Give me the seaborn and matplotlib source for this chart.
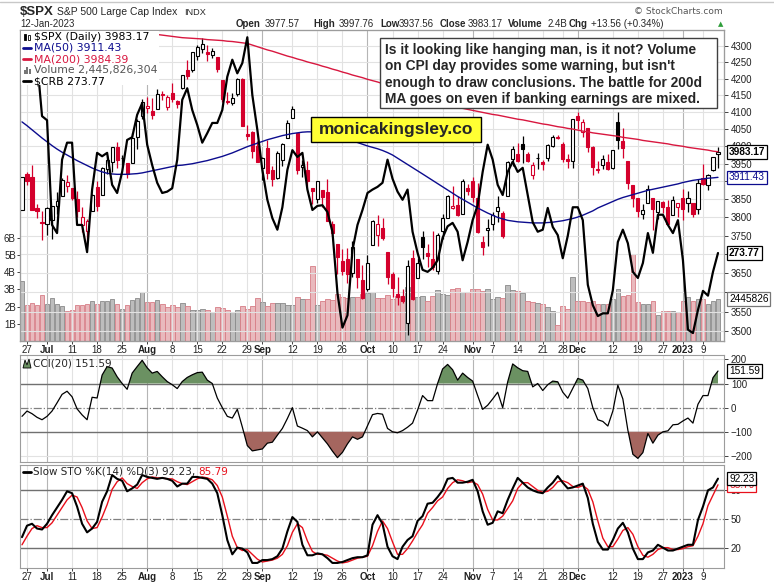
import matplotlib
matplotlib.use("Agg")
import matplotlib.pyplot as plt
from matplotlib import ticker, transforms
from matplotlib.lines import Line2D
from matplotlib.patches import Rectangle, Polygon
import seaborn as sns
import pandas as pd
import numpy as np

# ---- data -----------------------------------------------------------------
holidays = ['2022-07-04', '2022-09-05', '2022-11-24', '2022-12-26', '2023-01-02']
days = pd.bdate_range('2022-06-24', '2023-01-12')
days = days[~days.isin(pd.to_datetime(holidays))]

prev_close = 3795.73

opens = [3821.75, 3920.76, 3913.00, 3825.09, 3785.99, 3781.00, 3792.61, 3831.98, 3858.85, 3888.26,
         3880.94, 3851.95, 3779.67, 3763.99, 3818.00, 3883.79, 3860.73, 3935.32, 3955.47, 3998.43,
         3965.72, 3953.22, 3951.43, 4026.13, 4087.33, 4112.38, 4104.21, 4107.96, 4154.85, 4115.87,
         4155.93, 4133.11, 4170.78, 4227.40, 4225.02, 4269.37, 4290.46, 4280.40, 4273.13, 4266.31,
         4195.08, 4133.09, 4126.55, 4153.26, 4198.74, 4034.58, 4041.25, 4000.67, 3936.73, 3994.66,
         3930.89, 3909.43, 3959.94, 4022.94, 4083.67, 4037.12, 3940.73, 3932.41, 3880.95, 3849.91,
         3875.23, 3871.40, 3782.36, 3727.14, 3682.72, 3686.44, 3651.94, 3687.01, 3633.48, 3609.78,
         3726.46, 3753.25, 3771.97, 3706.74, 3647.51, 3595.86, 3590.83, 3520.37, 3690.41, 3638.65,
         3746.26, 3703.11, 3689.05, 3657.10, 3762.01, 3799.44, 3825.97, 3834.69, 3808.26, 3881.85,
         3901.79, 3852.90, 3733.25, 3766.98, 3780.71, 3817.02, 3810.94, 3859.89, 3963.72, 3977.97,
         4006.41, 3976.82, 3919.26, 3966.39, 3956.23, 3965.51, 4000.30, 4023.34, 4005.36, 3964.19,
         3957.18, 4087.14, 4040.17, 4052.02, 3996.63, 3933.28, 3947.79, 3954.17, 3939.29, 4069.38,
         4015.54, 3958.37, 3890.91, 3853.79, 3810.47, 3839.49, 3853.26, 3815.11, 3843.34, 3829.56,
         3805.45, 3829.06, 3853.29, 3840.36, 3839.74, 3823.37, 3910.82, 3888.57, 3932.35, 3977.57]

highs = [3913.65, 3927.72, 3945.86, 3836.50, 3818.99, 3829.82, 3832.19, 3870.91, 3910.63, 3918.50,
         3880.94, 3873.41, 3829.44, 3796.41, 3863.62, 3902.44, 3939.81, 3974.13, 3999.29, 4012.44,
         3975.30, 3953.22, 4039.56, 4078.95, 4140.15, 4144.95, 4140.47, 4167.66, 4161.29, 4151.58,
         4186.62, 4137.30, 4211.03, 4257.91, 4280.47, 4301.79, 4325.28, 4302.18, 4292.53, 4266.31,
         4195.08, 4159.77, 4156.56, 4200.54, 4203.04, 4062.99, 4044.98, 4015.37, 3970.23, 4018.43,
         3942.55, 3987.89, 4010.50, 4076.81, 4119.28, 4037.12, 3961.94, 3959.14, 3880.95, 3900.45,
         3876.01, 3907.07, 3790.17, 3727.14, 3715.67, 3717.53, 3736.74, 3687.01, 3671.44, 3698.35,
         3791.92, 3806.91, 3797.93, 3706.74, 3652.17, 3640.66, 3608.34, 3685.41, 3712.00, 3689.73,
         3762.79, 3728.58, 3762.45, 3757.89, 3810.74, 3862.85, 3886.15, 3859.95, 3905.42, 3893.73,
         3911.79, 3894.44, 3750.59, 3796.34, 3813.95, 3859.40, 3818.20, 3958.33, 4001.48, 4008.97,
         4028.84, 3983.09, 3954.33, 3979.89, 3962.00, 4005.88, 4033.78, 4034.02, 4012.27, 3976.77,
         4080.11, 4100.51, 4080.48, 4052.45, 4001.51, 3957.57, 3974.19, 3977.02, 3990.71, 4100.96,
         4053.76, 3958.37, 3890.91, 3854.86, 3838.24, 3889.28, 3853.26, 3845.80, 3846.65, 3848.32,
         3858.19, 3839.85, 3878.46, 3873.16, 3839.74, 3906.19, 3950.57, 3919.83, 3970.07, 3997.76]

lows = [3821.75, 3889.66, 3820.14, 3799.02, 3738.67, 3752.10, 3742.06, 3809.37, 3858.85, 3869.34,
        3847.22, 3802.36, 3759.07, 3721.56, 3817.18, 3818.63, 3860.73, 3922.03, 3927.64, 3938.85,
        3943.46, 3910.74, 3951.43, 3992.97, 4079.22, 4096.02, 4079.81, 4107.96, 4135.42, 4107.31,
        4128.97, 4112.09, 4167.62, 4200.08, 4219.78, 4256.90, 4277.77, 4253.08, 4261.98, 4218.70,
        4129.86, 4124.03, 4119.97, 4147.59, 4057.66, 4017.42, 3965.21, 3954.53, 3903.65, 3906.21,
        3886.75, 3906.03, 3944.81, 4022.94, 4083.67, 3921.82, 3912.15, 3888.28, 3837.08, 3838.50,
        3827.54, 3789.49, 3749.45, 3647.47, 3644.76, 3623.29, 3640.61, 3610.40, 3584.13, 3604.93,
        3726.46, 3722.66, 3739.22, 3620.73, 3588.10, 3568.45, 3573.86, 3491.58, 3579.68, 3638.65,
        3686.53, 3666.51, 3658.82, 3647.42, 3741.65, 3799.44, 3824.07, 3803.79, 3808.26, 3863.18,
        3843.80, 3758.68, 3698.15, 3721.56, 3764.70, 3786.28, 3744.22, 3859.89, 3944.82, 3956.40,
        3953.17, 3954.34, 3906.54, 3935.98, 3933.34, 3956.88, 3998.66, 4020.76, 3955.77, 3937.65,
        3938.58, 4050.87, 4026.63, 3984.49, 3918.39, 3922.68, 3935.83, 3933.04, 3935.30, 3993.03,
        3965.65, 3879.45, 3827.91, 3800.04, 3795.62, 3839.49, 3764.49, 3797.01, 3813.22, 3780.78,
        3805.45, 3800.34, 3794.33, 3815.77, 3802.42, 3809.56, 3890.42, 3877.29, 3928.54, 3937.56]

closes = [3911.74, 3900.11, 3821.55, 3818.83, 3785.38, 3825.33, 3831.39, 3845.08, 3902.62, 3899.38,
          3854.43, 3818.80, 3801.78, 3790.38, 3863.16, 3830.85, 3936.69, 3959.90, 3998.95, 3961.63,
          3966.84, 3921.05, 4023.61, 4072.43, 4130.29, 4118.63, 4091.19, 4155.17, 4151.94, 4145.19,
          4140.06, 4122.47, 4210.24, 4207.27, 4280.15, 4297.14, 4305.20, 4274.04, 4283.74, 4228.48,
          4137.99, 4128.73, 4140.77, 4199.12, 4057.66, 4030.61, 3986.16, 3955.00, 3966.85, 3924.26,
          3908.19, 3979.87, 4006.18, 4067.36, 4110.41, 3932.69, 3946.01, 3901.35, 3873.33, 3899.89,
          3855.93, 3789.93, 3757.99, 3693.23, 3655.04, 3647.29, 3719.04, 3640.47, 3585.62, 3678.43,
          3790.93, 3783.28, 3744.52, 3639.66, 3612.39, 3588.84, 3577.03, 3669.91, 3583.07, 3677.95,
          3719.98, 3695.16, 3665.78, 3752.75, 3797.34, 3859.11, 3830.60, 3807.30, 3901.06, 3871.98,
          3856.10, 3759.69, 3719.89, 3770.55, 3806.80, 3828.11, 3748.57, 3956.37, 3992.93, 3957.25,
          3991.73, 3958.79, 3946.56, 3965.34, 3949.94, 4003.58, 4027.26, 4026.12, 3963.94, 3957.63,
          4080.11, 4076.57, 4071.70, 3998.84, 3941.26, 3933.92, 3963.51, 3934.38, 3990.56, 4019.65,
          3995.32, 3895.75, 3852.36, 3817.66, 3821.62, 3878.44, 3822.39, 3844.82, 3829.25, 3783.22,
          3849.28, 3839.50, 3824.14, 3852.97, 3808.10, 3895.08, 3892.09, 3919.25, 3969.61, 3983.17]

# volume in billions of shares
volume_b = [3.46, 2.10, 2.22, 2.12, 2.70, 2.16, 2.51, 2.16, 2.05, 1.75,
            1.82, 2.12, 2.07, 2.18, 2.34, 2.18, 2.34, 2.30, 2.45, 2.18,
            1.87, 2.12, 2.39, 2.51, 2.86, 2.28, 2.24, 2.39, 2.16, 2.00,
            2.12, 2.00, 2.22, 2.05, 1.82, 1.78, 1.87, 1.82, 1.70, 1.97,
            1.93, 1.82, 1.70, 1.82, 2.05, 1.87, 2.05, 2.51, 2.28, 2.05,
            2.22, 2.21, 2.22, 2.07, 2.12, 2.57, 2.46, 2.46, 4.38, 2.12,
            2.30, 2.46, 2.41, 2.76, 2.57, 2.52, 2.57, 2.57, 2.75, 2.80,
            2.86, 2.48, 2.52, 2.70, 2.44, 2.64, 2.54, 3.16, 2.54, 2.54,
            2.64, 2.35, 2.64, 2.97, 2.74, 2.68, 3.00, 3.07, 2.87, 2.87,
            3.05, 3.00, 2.92, 3.00, 2.44, 2.58, 2.52, 3.28, 2.97, 2.90,
            2.78, 2.35, 2.26, 2.20, 2.16, 2.00, 1.73, 0.95, 2.06, 1.87,
            3.71, 2.30, 2.35, 2.26, 2.35, 2.16, 2.14, 2.14, 2.45, 3.03,
            2.59, 2.65, 5.03, 2.26, 2.16, 2.16, 2.35, 1.54, 1.73, 1.73,
            1.73, 1.67, 2.35, 2.55, 2.35, 2.45, 2.45, 2.14, 2.35, 2.446]

ma50 = [4071, 4060, 4048, 4036, 4024, 4013, 4002, 3992,
        3983, 3975, 3967, 3959, 3952, 3945, 3938, 3932,
        3927, 3923, 3921, 3920, 3920, 3920, 3921, 3922,
        3924, 3927, 3930, 3933, 3936, 3939, 3942, 3945,
        3946, 3948, 3950, 3953, 3956, 3959, 3963,
        3967, 3971, 3976, 3981, 3987, 3993, 3999,
        4004, 4009, 4014, 4019, 4023, 4027, 4031,
        4034, 4037, 4039, 4041, 4042, 4042, 4041,
        4039, 4036, 4033, 4029, 4025, 4021, 4016,
        4011, 4006, 4001, 3997, 3993, 3988, 3982,
        3975, 3966, 3957, 3948, 3939, 3930, 3921, 3912, 3903, 3894, 3885, 3876, 3867, 3858,
        3850, 3842, 3834, 3826, 3819, 3812, 3806, 3800,
        3796, 3792, 3790, 3788, 3787, 3786,
        3785, 3785, 3785, 3786, 3787, 3789, 3791,
        3794, 3797, 3801, 3806, 3812, 3818, 3826,
        3832, 3838, 3844, 3850, 3855, 3859, 3863,
        3867, 3871, 3875, 3878, 3881, 3884, 3887,
        3890, 3893, 3897, 3900, 3903, 3905, 3907,
        3909, 3910, 3911.43]

ma200 = [4420, 4416, 4412, 4408, 4404, 4400, 4396, 4392, 4388, 4384, 4380,
         4377, 4374, 4371, 4368, 4365, 4362, 4359, 4356, 4353, 4350, 4348,
         4346, 4344, 4342, 4340, 4338, 4336, 4334, 4332, 4330, 4328, 4326,
         4325, 4324, 4323, 4322, 4320, 4319, 4318, 4317, 4315, 4314, 4312, 4310, 4308,
         4303, 4298, 4293, 4288, 4284, 4279, 4274, 4269, 4265, 4260, 4256, 4251, 4247,
         4243, 4238, 4234, 4229, 4225, 4220, 4216, 4211, 4207, 4203, 4198, 4194, 4190,
         4185, 4181, 4176, 4171, 4167, 4162, 4157, 4153, 4148, 4143, 4139, 4134, 4129, 4125, 4120, 4115, 4111,
         4108, 4105, 4102, 4099, 4096, 4093, 4091,
         4088, 4085, 4082, 4079, 4077, 4074, 4071, 4068, 4065, 4063, 4060, 4057,
         4055, 4052, 4050, 4047, 4044, 4042, 4039, 4037,
         4035, 4033, 4031, 4029, 4026, 4024, 4022, 4020, 4017, 4015, 4013, 4011, 4009, 4007,
         4004, 4002, 4000, 3997, 3995, 3993, 3991, 3989, 3986, 3984.39]

crb = [302.2, 302.9, 304.4, 302.2, 293.9, 293.3, 277.9, 276.7, 287.5, 290.0,
       290.0, 277.9, 277.9, 273.9, 283.1, 288.5, 288.0, 288.5, 283.8, 282.6,
       285.7, 290.4, 290.8, 294.1, 295.8, 289.7, 286.7, 284.1, 282.6, 282.8,
       283.3, 287.5, 296.3, 298.0, 294.8, 292.6, 290.0, 291.4, 292.9, 292.9,
       294.8, 299.7, 302.2, 300.2, 301.7, 305.5, 297.0, 291.9, 286.0, 281.6,
       278.9, 277.2, 280.5, 286.0, 288.9, 287.9, 288.5, 283.1, 280.1, 280.7,
       280.8, 279.8, 276.9, 267.9, 262.8, 264.6, 274.2, 277.9, 280.1, 282.6,
       283.1, 283.5, 284.1, 287.5, 284.7, 282.8, 281.6, 283.1, 276.9, 273.8,
       271.3, 271.0, 271.6, 272.7, 276.0, 277.7, 278.2, 276.9, 272.7, 275.4,
       278.6, 280.8, 285.7, 289.7, 287.5, 283.8, 282.3, 285.7, 287.2, 285.7,
       286.3, 282.3, 278.3, 276.9, 277.2, 280.4, 277.6, 276.4, 273.0, 276.3,
       280.5, 280.5, 278.6, 269.1, 266.1, 264.5, 264.9, 264.9, 268.3, 275.4,
       277.2, 275.2, 271.0, 270.1, 272.3, 276.7, 273.8, 279.4, 279.4, 277.9,
       276.7, 278.6, 272.7, 262.5, 262.0, 265.4, 268.2, 267.5, 271.0, 273.77]

cci = [-36, -14, -25, -40, -50, -36, -14, 20, 55, 68,
       45, -5, -30, -50, 43, 40, 135, 170, 164, 128,
       100, 76, 143, 170, 196, 165, 143, 150, 128, 108,
       95, 79, 108, 125, 136, 145, 147, 114, 100, 40,
       0, -36, -43, -7, -80, -157, -179, -175, -171, -147,
       -143, -114, -86, -45, 0, -76, -85, -95, -121, -100,
       -125, -150, -180, -207, -185, -150, -121, -131, -121, -75,
       -29, -24, -27, -86, -100, -104, -95, -81, -64, -10,
       50, 29, 29, 100, 160, 179, 157, 114, 143, 125,
       110, 50, -7, 10, 36, 64, 0, 107, 181, 165,
       153, 150, 86, 100, 71, 95, 110, 107, 64, 39,
       80, 121, 114, 79, 0, -50, -57, -76, -14, 93,
       36, -93, -193, -210, -186, -107, -147, -114, -100, -96,
       -71, -69, -55, -43, -64, 14, 50, 50, 124, 151.59]

sto_k = [31, 43, 45, 40, 39, 45, 54, 62, 70, 79,
         77, 63, 45, 36, 40, 47, 68, 79, 96, 92,
         90, 79, 82, 86, 96, 94, 93, 92, 93, 92,
         90, 84, 87, 87, 94, 94, 93, 92, 87, 77,
         54, 28, 13, 20, 19, 15, 4, 4, 7, 7,
         8, 11, 19, 37, 52, 47, 23, 12, 12, 14,
         13, 9, 4, 4, 5, 7, 9, 10, 10, 12,
         44, 54, 45, 21, 11, 8, 21, 28, 32, 48,
         53, 66, 67, 73, 80, 92, 93, 88, 88, 89,
         91, 79, 58, 44, 46, 58, 56, 70, 82, 93,
         88, 83, 80, 78, 77, 83, 88, 95, 88, 82,
         83, 85, 87, 72, 45, 26, 18, 18, 28, 40,
         46, 36, 19, 8, 8, 15, 17, 23, 20, 17,
         17, 19, 21, 23, 23, 49, 63, 80, 83, 92.23]

sto_d = [23, 32, 40, 43, 41, 41, 46, 54, 62, 70,
         75, 73, 62, 48, 40, 41, 52, 65, 81, 89,
         93, 87, 84, 82, 88, 92, 94, 93, 93, 92,
         92, 89, 87, 86, 89, 92, 94, 93, 91, 85,
         73, 53, 32, 20, 17, 18, 13, 8, 5, 6,
         7, 9, 13, 22, 36, 45, 41, 27, 16, 13,
         13, 12, 9, 6, 4, 5, 7, 9, 10, 11,
         22, 37, 48, 40, 26, 13, 13, 19, 27, 36,
         44, 56, 62, 69, 73, 82, 88, 91, 90, 88,
         89, 86, 76, 60, 49, 49, 53, 61, 69, 82,
         88, 88, 84, 80, 78, 79, 83, 89, 90, 88,
         84, 83, 85, 81, 68, 48, 30, 21, 21, 29,
         38, 41, 34, 21, 12, 10, 13, 18, 20, 20,
         18, 18, 19, 21, 22, 32, 45, 64, 75, 85.79]

tick_dates = ['2022-06-27', '2022-07-01', '2022-07-11', '2022-07-18', '2022-07-25', '2022-08-01',
              '2022-08-08', '2022-08-15', '2022-08-22', '2022-08-29', '2022-09-01', '2022-09-12',
              '2022-09-19', '2022-09-26', '2022-10-03', '2022-10-10', '2022-10-17', '2022-10-24',
              '2022-11-01', '2022-11-07', '2022-11-14', '2022-11-21', '2022-11-28', '2022-12-01',
              '2022-12-12', '2022-12-19', '2022-12-27', '2023-01-03', '2023-01-09']
tick_labels = ['27', 'Jul', '11', '18', '25', 'Aug', '8', '15', '22', '29', 'Sep', '12', '19', '26',
               'Oct', '10', '17', '24', 'Nov', '7', '14', '21', '28', 'Dec', '12', '19', '27', '2023', '9']
month_labels = ['Jul', 'Aug', 'Sep', 'Oct', 'Nov', 'Dec', '2023']

price_ticks = list(range(3500, 4301, 50))
hidden_price_labels = [3600, 3700]   # sit under the value tags

note_lines = ["Is it looking like hanging man, is it not? Volume",
              "on CPI day provides some warning, but isn't",
              "enough to draw conclusions. The battle for 200d",
              "MA goes on even if banking earnings are mixed."]

# ---- setup ----------------------------------------------------------------
W, H = 774, 587
RED = '#d4002c'
NAVY = '#0c0c8e'
CRIMSON = '#d8173f'
GREEN = '#6b9162'
BROWN = '#a5665f'
FRAME = '#9c9c9c'
LIGHT = '#e2e2e2'
MONTH = '#b5b5b5'


def box(l, t, r, b):
    return [l / W, 1 - b / H, (r - l) / W, (b - t) / H]


def fx(x):
    return x / W


def fy(y):
    return 1 - y / H


sns.set_theme(style="white")
plt.rcParams['font.family'] = ['DejaVu Sans']

df = pd.DataFrame({'date': days, 'open': opens, 'high': highs, 'low': lows, 'close': closes,
                   'volume': volume_b, 'ma50': ma50, 'ma200': ma200, 'crb': crb,
                   'cci': cci, 'k': sto_k, 'd': sto_d})
df['n'] = np.arange(len(df))
up_day = df['close'] >= df['close'].shift(1).fillna(prev_close)
hollow = df['close'] >= df['open']
edge = np.where(up_day, 'black', RED)
face = np.where(hollow, 'white', edge)

tick_pos = [days.get_loc(pd.Timestamp(d)) for d in tick_dates]
x_lim = (-0.4, 140.2)

fig = plt.figure(figsize=(W / 100, H / 100), dpi=100)
fig.patch.set_facecolor('white')

ax_vol = fig.add_axes(box(20, 30, 724, 341))
ax = ax_vol.twinx()
ax_crb = ax_vol.twinx()
ax_cci = fig.add_axes(box(20, 355, 724, 462))
ax_sto = fig.add_axes(box(20, 465, 724, 568))

for a in (ax_vol, ax, ax_crb, ax_cci, ax_sto):
    for s in a.spines.values():
        s.set_color(FRAME)
        s.set_linewidth(0.8)
    a.set_xlim(*x_lim)

# ---- grid -----------------------------------------------------------------
for p, lab in zip(tick_pos, tick_labels):
    c = MONTH if lab in month_labels else LIGHT
    for a in (ax, ax_cci, ax_sto):
        a.axvline(p, color=c, lw=0.8, zorder=0)
for v in price_ticks:
    ax.axhline(v, color=LIGHT, lw=0.8, zorder=0)

# ---- volume ---------------------------------------------------------------
vol_face = np.where(up_day, '#bdbdbd', '#e9b9bd')
vol_edge = np.where(up_day, '#8a8a8a', '#d77d86')
ax_vol.bar(df['n'], df['volume'], width=0.92, color=vol_face, edgecolor=vol_edge, linewidth=0.6)
ax_vol.set_ylim(0, 18.08)
ax_vol.set_yticks([1, 2, 3, 4, 5, 6])
ax_vol.set_yticklabels([f'{v}B' for v in range(1, 7)])
ax_vol.tick_params(axis='y', left=True, length=2, width=0.6, pad=1, labelsize=7,
                   colors='#222222', labelfontfamily='Liberation Sans')

# ---- candles & moving averages ----------------------------------------------
ax.vlines(df['n'], df['low'], df['high'], colors=edge, lw=0.9, zorder=2)
body_lo = np.minimum(df['open'], df['close'])
body_h = np.maximum(np.abs(df['close'] - df['open']), 0.8)
ax.bar(df['n'], body_h, bottom=body_lo, width=0.62, color=face, edgecolor=edge, linewidth=0.8, zorder=3)
sns.lineplot(data=df, x='n', y='ma50', ax=ax, color=NAVY, lw=1.0, zorder=4)
sns.lineplot(data=df, x='n', y='ma200', ax=ax, color=CRIMSON, lw=1.0, zorder=4)
ax.set_yscale('log')
ax.set_ylim(3476, 4350)
ax.yaxis.set_major_locator(ticker.FixedLocator(price_ticks))
ax.yaxis.set_minor_locator(ticker.NullLocator())
ax.yaxis.set_major_formatter(ticker.FuncFormatter(
    lambda v, p: '' if round(v) in hidden_price_labels else f'{v:.0f}'))
ax.tick_params(axis='y', right=True, length=3, width=0.6, pad=2, labelsize=7,
               colors='#222222', labelfontfamily='Liberation Sans')
ax.set(xlabel='', ylabel='')

sns.lineplot(data=df, x='n', y='crb', ax=ax_crb, color='black', lw=1.6)
ax_crb.set_ylim(260.83, 306.57)
ax_crb.set_yticks([])
ax_crb.set(xlabel='', ylabel='')

ax_vol.set_xticks(tick_pos)
ax_vol.set_xticklabels(tick_labels)
ax_vol.tick_params(axis='x', bottom=True, length=2, width=0.6, pad=1, labelsize=7,
                   colors='#222222', labelfontfamily='Liberation Sans')
ax_vol.set(xlabel='', ylabel='')
ax_vol.set_xlim(*x_lim)

# ---- CCI ------------------------------------------------------------------
ax_cci.axhline(100, color='#707070', lw=1.0, zorder=1)
ax_cci.axhline(-100, color='#707070', lw=1.0, zorder=1)
ax_cci.axhline(0, color='#808080', lw=0.9, ls='-.', zorder=1)
ax_cci.axhline(200, color=LIGHT, lw=0.8, zorder=0)
ax_cci.axhline(-200, color=LIGHT, lw=0.8, zorder=0)
ax_cci.fill_between(df['n'], 100, df['cci'], where=df['cci'] >= 100, interpolate=True,
                    color=GREEN, lw=0, zorder=2)
ax_cci.fill_between(df['n'], -100, df['cci'], where=df['cci'] <= -100, interpolate=True,
                    color=BROWN, lw=0, zorder=2)
sns.lineplot(data=df, x='n', y='cci', ax=ax_cci, color='black', lw=0.9, zorder=3)
ax_cci.set_ylim(-225, 218)
ax_cci.yaxis.tick_right()
ax_cci.set_yticks([-200, -100, 0, 100, 200])
ax_cci.tick_params(axis='y', right=True, length=3, width=0.6, pad=2, labelsize=7,
                   colors='#222222', labelfontfamily='Liberation Sans')
ax_cci.set_xticks(tick_pos)
ax_cci.tick_params(axis='x', bottom=False, labelbottom=False)
ax_cci.set(xlabel='', ylabel='')
ax_cci.set_xlim(*x_lim)

# ---- Slow stochastics -------------------------------------------------------
ax_sto.axhline(80, color='#707070', lw=1.0, zorder=1)
ax_sto.axhline(20, color='#707070', lw=1.0, zorder=1)
ax_sto.axhline(50, color='#808080', lw=0.9, ls='-.', zorder=1)
sns.lineplot(data=df, x='n', y='d', ax=ax_sto, color='#e8101c', lw=1.0, zorder=3)
sns.lineplot(data=df, x='n', y='k', ax=ax_sto, color='black', lw=1.5, zorder=4)
ax_sto.set_ylim(-1.3, 106.5)
ax_sto.yaxis.tick_right()
ax_sto.set_yticks([20, 50, 80])
ax_sto.tick_params(axis='y', right=True, length=3, width=0.6, pad=2, labelsize=7,
                   colors='#222222', labelfontfamily='Liberation Sans')
ax_sto.set_xticks(tick_pos)
ax_sto.set_xticklabels(tick_labels)
ax_sto.tick_params(axis='x', bottom=True, length=2, width=0.6, pad=1, labelsize=7,
                   colors='#222222', labelfontfamily='Liberation Sans')
ax_sto.set(xlabel='', ylabel='')
ax_sto.set_xlim(*x_lim)

for a in (ax_vol, ax_sto):
    for lbl in a.get_xticklabels():
        if lbl.get_text() in month_labels:
            lbl.set_fontweight('bold')

# ---- header ---------------------------------------------------------------
fig.text(fx(20), fy(12), '$SPX', fontsize=9.5, fontweight='bold', family='Liberation Sans', va='center')
fig.text(fx(57), fy(12), 'S&P 500 Large Cap Index', fontsize=7.5, family='Liberation Sans', va='center')
fig.text(fx(184), fy(12.5), 'INDX', fontsize=6.6, family='Liberation Sans', va='center')
fig.text(fx(723), fy(11), '\u00a9 StockCharts.com', fontsize=6.5, color='#555555', ha='right', va='center')
fig.text(fx(20), fy(24), '12-Jan-2023', fontsize=6.9, family='Liberation Sans', va='center')
header = [('Open', 236, 'bold'), ('3977.57', 265, 'normal'), ('High', 313, 'bold'),
          ('3997.76', 339, 'normal'), ('Low', 380, 'bold'), ('3937.56', 399, 'normal'),
          ('Close', 440, 'bold'), ('3983.17', 468, 'normal'), ('Volume', 508, 'bold'),
          ('2.4B', 548, 'normal'), ('Chg', 569, 'bold'), ('+13.56 (+0.34%)', 591, 'normal')]
for txt, x, w in header:
    fig.text(fx(x), fy(24), txt, fontsize=7.0, fontweight=w, family='Liberation Sans', va='center')
fig.text(fx(718), fy(24), '\u25b2', fontsize=5, color='#2e9e3a', va='center')
fig.add_artist(Line2D([0, 1], [fy(1.5), fy(1.5)], transform=fig.transFigure, color='#c8c8c8', lw=1))

# ---- main legend ----------------------------------------------------------
fig.add_artist(Rectangle((fx(21), fy(85)), fx(138), 54 / H, transform=fig.transFigure,
                         facecolor='white', edgecolor='none', zorder=1))
legend_items = [('$SPX (Daily) 3983.17', 'black', 37), ('MA(50) 3911.43', NAVY, 48),
                ('MA(200) 3984.39', CRIMSON, 59), ('Volume 2,445,826,304', '#555555', 70),
                ('$CRB 273.77', 'black', 81)]
for txt, c, y in legend_items:
    fig.text(fx(34), fy(y), txt, fontsize=7.8, color=c, va='center', zorder=4)
for c, y in [(NAVY, 48), (CRIMSON, 59), ('black', 81)]:
    fig.add_artist(Line2D([fx(23), fx(31)], [fy(y), fy(y)], transform=fig.transFigure,
                          color=c, lw=2, zorder=4))
fig.add_artist(Rectangle((fx(23.5), fy(40)), 2 / W, 6 / H, transform=fig.transFigure,
                         facecolor='black', edgecolor='black', lw=0.6, zorder=4))
fig.add_artist(Rectangle((fx(27.5), fy(39.5)), 2 / W, 5 / H, transform=fig.transFigure,
                         facecolor='white', edgecolor='black', lw=0.6, zorder=4))
for k, hgt in enumerate([4, 7, 5]):
    fig.add_artist(Rectangle((fx(23.5 + 2.6 * k), fy(74)), 2 / W, hgt / H, transform=fig.transFigure,
                             facecolor='#777777', edgecolor='none', zorder=4))

# ---- notes ----------------------------------------------------------------
fig.add_artist(Rectangle((fx(380), fy(108)), fx(337), 70 / H, transform=fig.transFigure,
                         facecolor='white', edgecolor='#404040', lw=1.0, zorder=5))
for k, line in enumerate(note_lines):
    fig.text(fx(385), fy(50 + 16.3 * k), line, fontsize=9.9, fontweight='bold',
             family='Liberation Sans', va='center', zorder=6)
fig.add_artist(Rectangle((fx(311), fy(142)), fx(170), 25 / H, transform=fig.transFigure,
                         facecolor='#ffff33', edgecolor='black', lw=1.0, zorder=5))
fig.text(fx(396), fy(130), 'monicakingsley.co', fontsize=12.5, fontweight='bold',
         family='Liberation Sans', ha='center', va='center', zorder=6)

# ---- panel legends --------------------------------------------------------
fig.add_artist(Polygon([(fx(23), fy(368)), (fx(25), fy(360)), (fx(27), fy(365)), (fx(29), fy(359)),
                        (fx(31), fy(368))], closed=True, transform=fig.transFigure,
                       facecolor=GREEN, edgecolor='black', lw=0.6, zorder=4))
fig.text(fx(33), fy(363.5), 'CCI(20) 151.59', fontsize=7.5, va='center', zorder=4)
fig.add_artist(Line2D([fx(23), fx(31)], [fy(472), fy(472)], transform=fig.transFigure,
                      color='black', lw=2, zorder=4))
t_sto = fig.text(fx(33), fy(472), 'Slow STO %K(14) %D(3) 92.23,', fontsize=7.5, va='center', zorder=4)
fig.canvas.draw()
bb = t_sto.get_window_extent()
fig.text((bb.x1 + 3) / W, fy(472), '85.79', fontsize=7.5, color='#e8101c', va='center', zorder=4)


# ---- value tags -----------------------------------------------------------
def tag(a, y, txt, ec, tc='black', weight='normal'):
    tr = transforms.blended_transform_factory(fig.transFigure, a.transData)
    fig.text(fx(729), y, txt, transform=tr, fontsize=7.3, color=tc, fontweight=weight,
             family='Liberation Sans', va='center', ha='left', zorder=7,
             bbox=dict(boxstyle='square,pad=0.18', facecolor='white', edgecolor=ec, lw=0.9))


tag(ax, 3983.17, '3983.17', 'black', weight='bold')
tag(ax, 3911.43, '3911.43', NAVY, tc=NAVY)
tag(ax_crb, 273.77, '273.77', 'black', weight='bold')
tag(ax_vol, 2.446, '2445826', '#777777')
tag(ax_cci, 151.59, '151.59', 'black')
tag(ax_sto, 85.79, '85.79', '#e8101c', tc='#e8101c')
tag(ax_sto, 92.23, '92.23', 'black')

plt.savefig('out.png', dpi=100, facecolor='white')
plt.close()
